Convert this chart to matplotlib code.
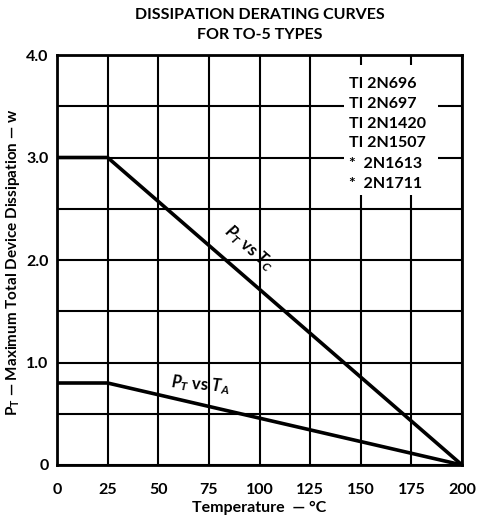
import numpy as np
import matplotlib.pyplot as plt
from matplotlib.patches import Rectangle

plt.rcParams['font.family'] = ['Lato', 'DejaVu Sans']
plt.rcParams['font.weight'] = 'bold'
plt.rcParams['axes.labelweight'] = 'bold'
plt.rcParams['mathtext.fontset'] = 'custom'
plt.rcParams['mathtext.rm'] = 'Lato:bold'
plt.rcParams['mathtext.it'] = 'Lato:italic:bold'

# derating curves (temperature in C, power in W)
temp_c = [0, 25, 200]
pt_vs_tc = [3.0, 3.0, 0.0]
pt_vs_ta = [0.8, 0.8, 0.0]

x_ticks = [0, 25, 50, 75, 100, 125, 150, 175, 200]
y_ticks = [0, 0.5, 1.0, 1.5, 2.0, 2.5, 3.0, 3.5, 4.0]
y_labels = ['0', '', '1.0', '', '2.0', '', '3.0', '', '4.0']

types = ['TI 2N696', 'TI 2N697', 'TI 2N1420', 'TI 2N1507', '*  2N1613', '*  2N1711']

fig = plt.figure(figsize=(4.81, 5.2), dpi=100)
ax = fig.add_axes([57/481, 55/520, 405/481, 410/520])

ax.plot(temp_c, pt_vs_tc, color='black', lw=2.6, zorder=3, solid_capstyle='butt')
ax.plot(temp_c, pt_vs_ta, color='black', lw=2.6, zorder=3, solid_capstyle='butt')

ax.set_xlim(0, 200)
ax.set_ylim(0, 4.0)
ax.set_xticks(x_ticks)
ax.set_yticks(y_ticks)
ax.set_yticklabels(y_labels)
ax.tick_params(length=0, labelsize=11.5)
ax.tick_params(axis='x', pad=13)
ax.tick_params(axis='y', pad=6)
for lab in ax.get_xticklabels() + ax.get_yticklabels():
    lab.set_fontweight('bold')
ax.set_axisbelow(True)
ax.grid(True, color='black', lw=1.5)
for s in ax.spines.values():
    s.set_linewidth(2)

# white box behind the list of types
ax.add_patch(Rectangle((141.5, 2.63), 46.5, 1.27, facecolor='white',
                       edgecolor='none', zorder=2))
type_y = [3.72, 3.52, 3.33, 3.14, 2.94, 2.74]
for t, yy in zip(types, type_y):
    ax.text(144.0, yy, t, fontsize=11.5, va='center', ha='left', zorder=4)

ax.text(95, 2.12, r'$P_T$ vs $T_C$', fontsize=12, rotation=-41,
        ha='center', va='center', zorder=4)
ax.text(71, 0.78, r'$P_T$ vs $T_A$', fontsize=12, rotation=-5,
        ha='center', va='center', zorder=4)

ax.set_xlabel('Temperature  \u2014 \u00b0C', fontsize=11.5, labelpad=3)
ax.set_ylabel('$\\mathrm{P_T}$ \u2014 Maximum Total Device Dissipation \u2014 w', fontsize=11)
ax.yaxis.set_label_coords(-0.087, 0.494)

fig.text(259.5/481, 1 - 15/520, 'DISSIPATION DERATING CURVES', ha='center', va='center', fontsize=11.5)
fig.text(259.5/481, 1 - 35/520, 'FOR TO-5 TYPES', ha='center', va='center', fontsize=11.5)

fig.savefig('out.png', dpi=100)
